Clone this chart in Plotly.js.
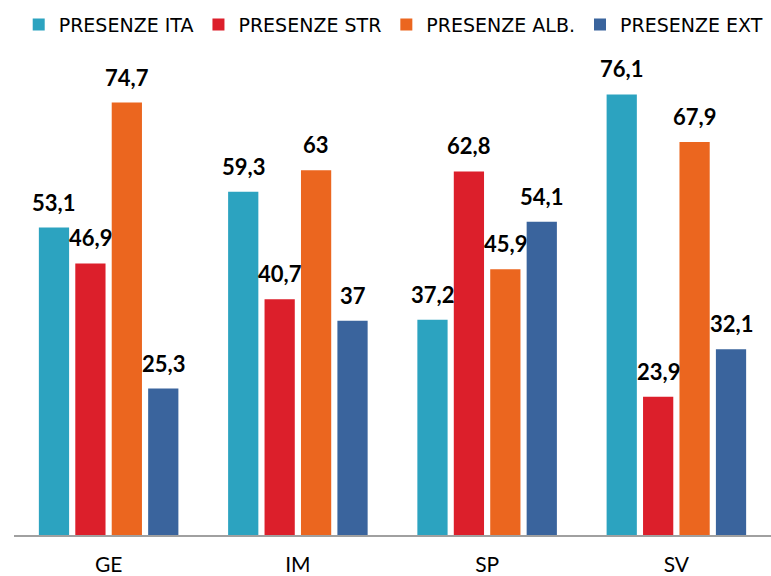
<!DOCTYPE html>
<html><head><meta charset="utf-8">
<script src="https://cdn.plot.ly/plotly-3.0.1.min.js"></script>
<style>body{margin:0;background:#fff}#c{width:771px;height:576px}</style>
</head><body><div id="c"></div>
<script>
const categories = ["GE", "IM", "SP", "SV"];
const seriesNames = ["PRESENZE ITA", "PRESENZE STR", "PRESENZE ALB.", "PRESENZE EXT"];
const presenzeIta = [53.1, 59.3, 37.2, 76.1];
const presenzeStr = [46.9, 40.7, 62.8, 23.9];
const presenzeAlb = [74.7, 63, 45.9, 67.9];
const presenzeExt = [25.3, 37, 54.1, 32.1];
const colors = ["#2ca3c0", "#dc1f2b", "#eb661f", "#3a649d"];
const allSeries = [presenzeIta, presenzeStr, presenzeAlb, presenzeExt];
const fmt = v => String(v).replace('.', ',');

const bargap = 0.23, bargroupgap = 0.17;
const traces = allSeries.map((vals, i) => ({
  type: 'bar', x: categories, y: vals, name: seriesNames[i],
  marker: {color: colors[i]},
  hoverinfo: 'none'
}));
const annotations = [];
const n = allSeries.length;
const groupW = 1 - bargap;
const slot = groupW / n;
allSeries.forEach((vals, i) => {
  vals.forEach((v, j) => {
    const xoff = -groupW / 2 + slot * (i + 0.5);
    annotations.push({
      xref: 'x', yref: 'y', x: j + xoff, y: v, text: '<b>' + fmt(v) + '</b>',
      showarrow: false, yanchor: 'bottom', yshift: 10,
      font: {family: 'Lato, sans-serif', size: 22, color: '#000'}
    });
  });
});
const layout = {
  width: 771, height: 576,
  margin: {l: 14, r: 0, t: 40, b: 41, autoexpand: false},
  barmode: 'group', bargap: bargap, bargroupgap: bargroupgap,
  showlegend: true,
  legend: {orientation: 'h', x: 0.51, xref: 'container', xanchor: 'center',
    y: 0.99, yref: 'container', yanchor: 'top',
    font: {family: 'DejaVu Sans, sans-serif', size: 19, color: '#000'},
    itemwidth: 30, tracegroupgap: 0},
  xaxis: {showline: true, linecolor: '#a0a0a0', linewidth: 2, ticks: '', ticklabelstandoff: 10,
    tickfont: {family: 'Lato, sans-serif', size: 21, color: '#000'}, fixedrange: true,
    range: [-0.5, 3.5]},
  yaxis: {range: [0, 85.5], visible: false, showgrid: false, zeroline: false},
  annotations: annotations,
  plot_bgcolor: '#fff', paper_bgcolor: '#fff'
};
Plotly.newPlot('c', traces, layout, {displayModeBar: false, staticPlot: true});
</script></body></html>
